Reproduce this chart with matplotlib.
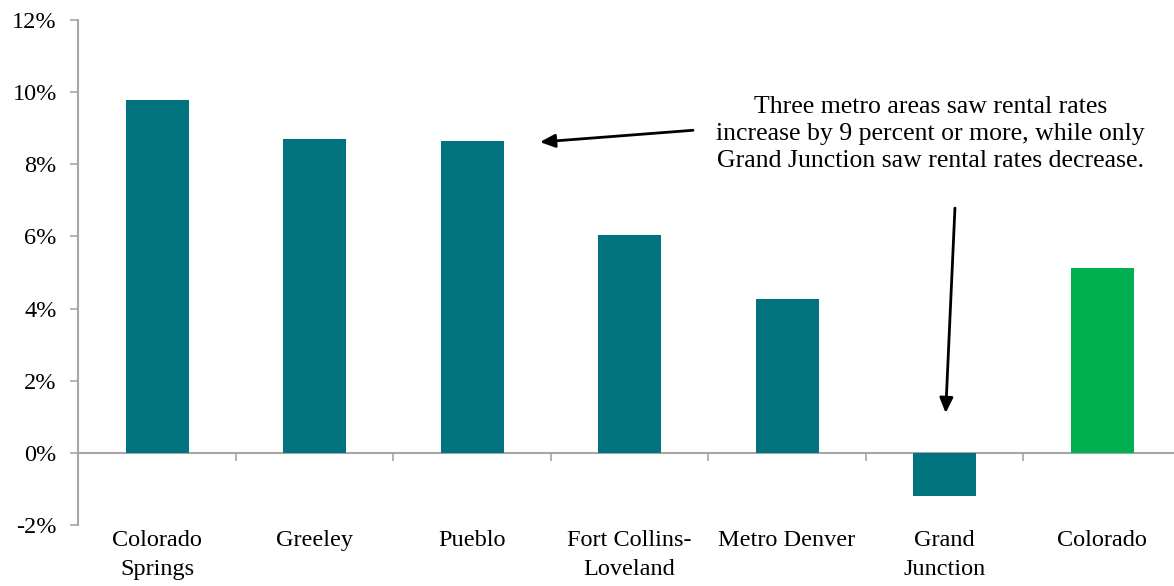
import matplotlib
matplotlib.use("Agg")
import matplotlib.pyplot as plt
import numpy as np

categories = ["Colorado\nSprings", "Greeley", "Pueblo", "Fort Collins-\nLoveland",
              "Metro Denver", "Grand\nJunction", "Colorado"]
values = [9.78, 8.70, 8.65, 6.04, 4.26, -1.20, 5.12]
bar_colors = ["#00737F"] * 6 + ["#00B050"]
y_ticks = [-2, 0, 2, 4, 6, 8, 10, 12]
note = ("Three metro areas saw rental rates\n"
        "increase by 9 percent or more, while only\n"
        "Grand Junction saw rental rates decrease.")

plt.rcParams['font.family'] = ['Liberation Serif', 'DejaVu Serif']
FS = 17.5
GRAY = "#A6A6A6"

fig = plt.figure(figsize=(11.74, 5.86), dpi=100)
ax = fig.add_axes([78.3 / 1174, 61.2 / 586, 7 * 157.5 / 1174, 504.6 / 586])

x = np.arange(len(categories))
ax.bar(x, values, width=0.4, color=bar_colors, zorder=3)

ax.set_xlim(-0.5, len(categories) - 0.5)
ax.set_ylim(-2, 12)
ax.set_yticks(y_ticks)
ax.set_yticklabels([f"{v}%" for v in y_ticks], fontsize=FS)
ax.tick_params(axis='y', length=5.5, width=1.2, color=GRAY, pad=10)

# category labels at the bottom of the plot
ax.set_xticks(x)
ax.set_xticklabels(categories, fontsize=FS, linespacing=1.5)
ax.tick_params(axis='x', length=0, pad=4)

for s in ['top', 'right', 'bottom']:
    ax.spines[s].set_visible(False)
ax.spines['left'].set_color(GRAY)
ax.spines['left'].set_linewidth(1.5)

# baseline at 0 with boundary ticks
sec = ax.secondary_xaxis(2 / 14)
sec.set_xticks(np.arange(len(categories) - 1) + 0.5)
sec.set_xticklabels([])
sec.tick_params(axis='x', length=5.5, width=1.2, color=GRAY)
sec.spines['bottom'].set_color(GRAY)
sec.spines['bottom'].set_linewidth(1.5)
sec.spines['bottom'].set_zorder(4)

ax.text(4.911, 8.85, note, ha='center', va='center', fontsize=18.5,
        linespacing=1.3)

arrow = dict(arrowstyle='-|>,head_length=0.9,head_width=0.4', color='black', lw=2,
             shrinkA=0, shrinkB=0)
ax.annotate("", xy=(2.431, 8.619), xytext=(3.403, 8.946), arrowprops=arrow)
ax.annotate("", xy=(5.007, 1.10), xytext=(5.066, 6.788), arrowprops=arrow)

fig.savefig("out.png", dpi=100)
